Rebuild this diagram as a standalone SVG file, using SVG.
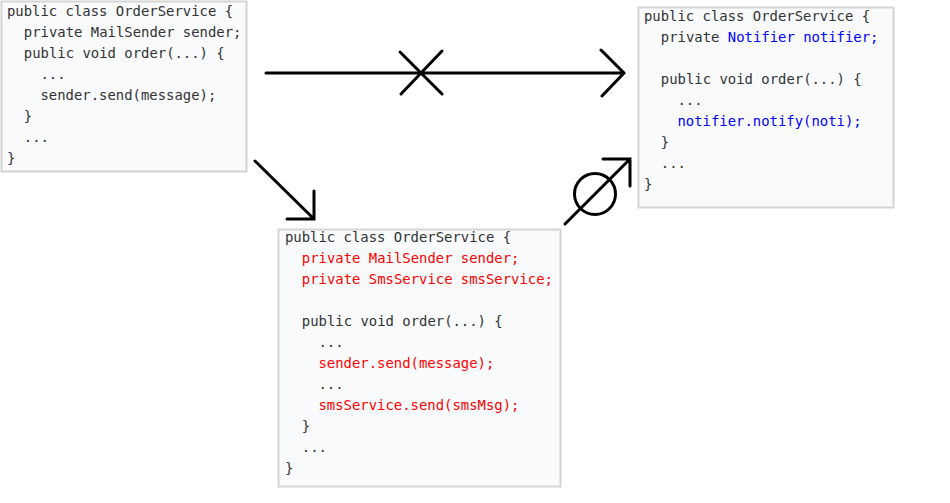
<svg xmlns="http://www.w3.org/2000/svg" width="950" height="503" viewBox="0 0 950 503">
<style>
.box{fill:#f8fafc;stroke:#d4d4d4;stroke-width:2}
.code{font-family:"DejaVu Sans Mono","Liberation Mono",monospace;font-size:13.92px;fill:#333333;white-space:pre}
.red{fill:#ff0000}
.blue{fill:#0000ff}
.ln{fill:none;stroke:#000;stroke-width:3;stroke-linecap:round;stroke-linejoin:miter}
</style>
<rect width="950" height="503" fill="#ffffff"/>
<g id="node-original">
<rect class="box" x="1.5" y="1.5" width="245" height="170"/>
<text class="code" x="7" y="16">public class OrderService {</text>
<text class="code" x="23.8" y="37">private MailSender sender;</text>
<text class="code" x="23.8" y="58">public void order(...) {</text>
<text class="code" x="40.5" y="79">...</text>
<text class="code" x="40.5" y="100">sender.send(message);</text>
<text class="code" x="23.8" y="121">}</text>
<text class="code" x="23.8" y="142">...</text>
<text class="code" x="7" y="163">}</text>
</g>
<g id="node-notifier">
<rect class="box" x="638.5" y="7.5" width="255" height="200"/>
<text class="code" x="644" y="21">public class OrderService {</text>
<text class="code" x="660.8" y="42">private <tspan class="blue">Notifier notifier;</tspan></text>
<text class="code" x="660.8" y="84">public void order(...) {</text>
<text class="code" x="677.5" y="105">...</text>
<text class="code blue" x="677.5" y="126">notifier.notify(noti);</text>
<text class="code" x="660.8" y="147">}</text>
<text class="code" x="660.8" y="168">...</text>
<text class="code" x="644" y="189">}</text>
</g>
<g id="node-sms">
<rect class="box" x="278.5" y="229.5" width="282" height="257"/>
<text class="code" x="285" y="242">public class OrderService {</text>
<text class="code red" x="301.8" y="263">private MailSender sender;</text>
<text class="code red" x="301.8" y="284">private SmsService smsService;</text>
<text class="code" x="301.8" y="326">public void order(...) {</text>
<text class="code" x="318.5" y="347">...</text>
<text class="code red" x="318.5" y="368">sender.send(message);</text>
<text class="code" x="318.5" y="389">...</text>
<text class="code red" x="318.5" y="410">smsService.send(smsMsg);</text>
<text class="code" x="301.8" y="431">}</text>
<text class="code" x="301.8" y="452">...</text>
<text class="code" x="285" y="473">}</text>
</g>
<g id="connectors">
<path class="ln" d="M266,73 H624 M601,50 L624,73 L602,96"/>
<path class="ln" d="M400,52 L442,94 M442,51 L401,94"/>
<path class="ln" d="M255,161 L314,219 M314,191 V219 H287"/>
<path class="ln" d="M565,224 L630,159 M603,159 H630 V186"/>
<circle class="ln" cx="595" cy="194" r="20.5"/>
</g>
</svg>
